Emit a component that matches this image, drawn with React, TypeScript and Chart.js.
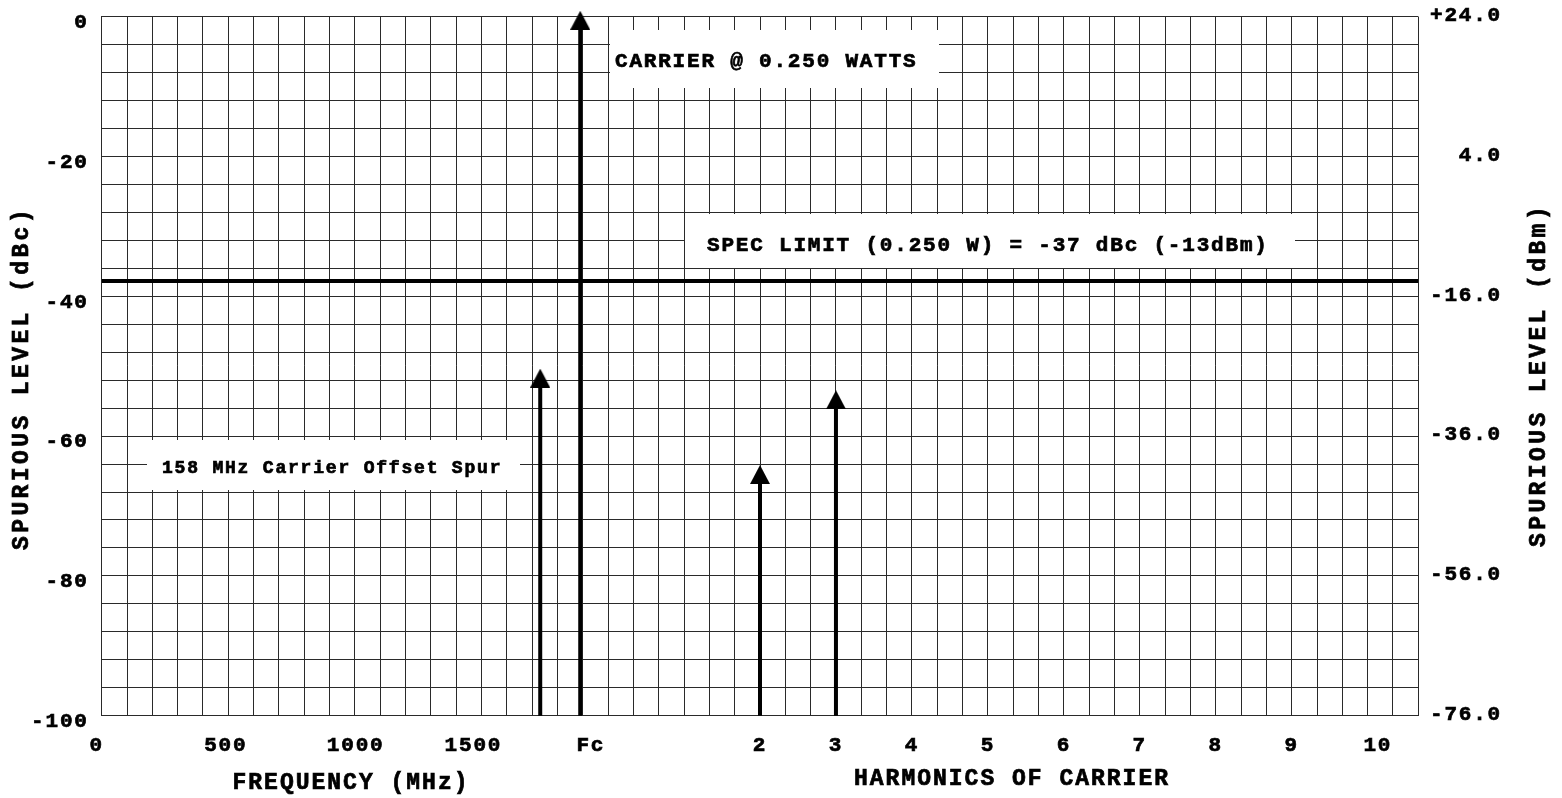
import React, { useEffect, useRef } from 'react';
import { Chart, registerables } from 'chart.js';

Chart.register(...registerables);

const FONT = '"Liberation Mono", "DejaVu Sans Mono", monospace';
const GRID = '#2a2a2a';

// Axes
const xMin = 0;
const xMax = 5200;
const xGridStep = 100;
const yMin = -100;
const yMax = 0;
const yGridStep = 4;
const yLabelStep = 20;
const rightMin = -76;
const rightMax = 24;
const rightTickValues = [24, 4, -16, -36, -56, -76];
const rightTickLabels = ['+24.0', '4.0', '-16.0', '-36.0', '-56.0', '-76.0'];
const xTickValues = [-20, 490, 1003, 1468, 1932, 2600, 2900, 3200, 3500, 3800, 4100, 4400, 4700, 5040];
const xTickLabels = ['0', '500', '1000', '1500', 'Fc', '2', '3', '4', '5', '6', '7', '8', '9', '10'];

// Spectral lines (x in MHz-equivalent axis units, level in dBc)
const arrowNames = ['Carrier', '158 MHz offset spur', '2nd harmonic', '3rd harmonic'];
const arrowFreqs = [1890, 1732, 2600, 2900];
const arrowLevels = [-0.5, -51.7, -65.5, -54.8];
const specLevel = -37.8;

// Annotations
const noteTexts = ['CARRIER @ 0.250 WATTS', 'SPEC LIMIT (0.250 W) = -37 dBc (-13dBm)', '158 MHz Carrier Offset Spur'];

const TICK_LS = 1.8;
const STROKE = 0.7;

const setLS = (ctx: any, v: number) => {
  ctx.letterSpacing = v + 'px';
};

const boldText = (ctx: any, t: string, x: number, y: number) => {
  ctx.strokeText(t, x, y);
  ctx.fillText(t, x, y);
};

const decorPlugin = {
  id: 'decor',
  beforeDraw(chart: any) {
    setLS(chart.ctx, TICK_LS);
  },
  beforeDatasetsDraw(chart: any) {
    const ctx = chart.ctx;
    const notes = [
      { text: noteTexts[0], box: [610, 30, 939, 88], tx: 615, ty: 62, size: 21, ls: 1.8 },
      { text: noteTexts[1], box: [685, 214, 1295, 268], tx: 707, ty: 246, size: 21, ls: 1.8 },
      { text: noteTexts[2], box: [147, 440, 520, 490], tx: 162, ty: 468, size: 18, ls: 1.8 },
    ];
    ctx.save();
    for (const n of notes) {
      ctx.fillStyle = '#fff';
      ctx.fillRect(n.box[0], n.box[1], n.box[2] - n.box[0], n.box[3] - n.box[1]);
      setLS(ctx, n.ls);
      ctx.fillStyle = '#000';
      ctx.strokeStyle = '#000';
      ctx.lineWidth = STROKE;
      ctx.font = `bold ${n.size}px ${FONT}`;
      ctx.textAlign = 'left';
      ctx.textBaseline = 'middle';
      boldText(ctx, n.text, n.tx, n.ty);
    }
    ctx.restore();
  },
  afterDraw(chart: any) {
    const ctx = chart.ctx;
    ctx.save();
    ctx.fillStyle = '#000';
    ctx.strokeStyle = '#000';
    ctx.lineWidth = STROKE;
    ctx.textAlign = 'center';
    ctx.textBaseline = 'middle';
    ctx.font = `bold 23px ${FONT}`;
    setLS(ctx, 2);
    boldText(ctx, 'FREQUENCY (MHz)', 351, 783);
    boldText(ctx, 'HARMONICS OF CARRIER', 1012, 779);
    setLS(ctx, 3.4);
    const vt = (t: string, x: number, y: number) => {
      ctx.save();
      ctx.translate(x, y);
      ctx.rotate(-Math.PI / 2);
      boldText(ctx, t, 0, 0);
      ctx.restore();
    };
    vt('SPURIOUS LEVEL (dBc)', 22, 378);
    vt('SPURIOUS LEVEL (dBm)', 1539, 375);
    ctx.restore();
    setLS(ctx, 0);
  },
};

export default function App() {
  const ref = useRef<HTMLCanvasElement>(null);
  useEffect(() => {
    const arrow = document.createElement('canvas');
    arrow.width = 20;
    arrow.height = 19;
    const a = arrow.getContext('2d')!;
    a.fillStyle = '#000';
    a.beginPath();
    a.moveTo(10, 0);
    a.lineTo(20, 19);
    a.lineTo(0, 19);
    a.closePath();
    a.fill();

    const tickFont = { family: FONT, size: 21, weight: 'bold' as const };
    const tickStroke = { textStrokeColor: '#000', textStrokeWidth: STROKE };

    const datasets: any[] = [
      {
        label: 'Spec limit',
        data: [{ x: xMin, y: specLevel }, { x: xMax, y: specLevel }],
        borderColor: '#000',
        borderWidth: 4,
        pointRadius: 0,
        xAxisID: 'x',
        yAxisID: 'y',
      },
      ...arrowNames.map((name, i) => ({
        label: name,
        data: [{ x: arrowFreqs[i], y: yMin }, { x: arrowFreqs[i], y: arrowLevels[i] }],
        borderColor: '#000',
        backgroundColor: '#000',
        borderWidth: 4,
        borderCapStyle: 'butt',
        pointRadius: [0, 10],
        pointBorderWidth: 0,
        pointStyle: ['circle', arrow],
        clip: false,
        xAxisID: 'x',
        yAxisID: 'y',
      })),
    ];

    const noPad = (s: any) => {
      s.paddingTop = 0;
      s.paddingBottom = 0;
      s.paddingLeft = 0;
      s.paddingRight = 0;
    };

    const chart = new Chart(ref.current!, {
      type: 'line',
      data: { datasets },
      options: {
        animation: false,
        responsive: false,
        devicePixelRatio: 1,
        events: [],
        layout: { padding: { left: 0, right: 60, top: 16.7, bottom: 0 } },
        plugins: { legend: { display: false }, tooltip: { enabled: false }, title: { display: false } },
        scales: {
          x: {
            type: 'linear',
            position: 'bottom',
            min: xMin,
            max: xMax,
            ticks: { display: false, stepSize: xGridStep, autoSkip: false },
            grid: { color: GRID, lineWidth: 1, drawTicks: false },
            border: { color: GRID, width: 1 },
            afterFit: (s: any) => {
              s.height = 0;
              noPad(s);
            },
          },
          xl: {
            type: 'linear',
            position: 'bottom',
            min: xMin,
            max: xMax,
            afterBuildTicks: (s: any) => {
              s.ticks = xTickValues.map((v) => ({ value: v }));
            },
            ticks: {
              autoSkip: false,
              maxRotation: 0,
              minRotation: 0,
              padding: 17,
              color: '#000',
              font: tickFont,
              ...tickStroke,
              callback: (_v: any, i: number) => xTickLabels[i],
            },
            grid: { display: false, drawTicks: false },
            border: { display: false },
            afterFit: (s: any) => {
              s.height = 82.3;
              noPad(s);
            },
          },
          y: {
            type: 'linear',
            position: 'left',
            min: yMin,
            max: yMax,
            ticks: {
              stepSize: yGridStep,
              autoSkip: false,
              padding: 13,
              labelOffset: 6,
              color: '#000',
              font: tickFont,
              ...tickStroke,
              callback: (v: any) => (Math.abs(Number(v) % yLabelStep) < 1e-6 ? String(v) : ''),
            },
            grid: { color: GRID, lineWidth: 1, drawTicks: false },
            border: { color: GRID, width: 1 },
            afterFit: (s: any) => {
              s.width = 101.7;
              noPad(s);
            },
          },
          y2: {
            type: 'linear',
            position: 'right',
            min: rightMin,
            max: rightMax,
            afterBuildTicks: (s: any) => {
              s.ticks = rightTickValues.map((v) => ({ value: v }));
            },
            ticks: {
              autoSkip: false,
              crossAlign: 'far',
              labelOffset: -1,
              color: '#000',
              font: tickFont,
              ...tickStroke,
              callback: (_v: any, i: number) => rightTickLabels[i],
            },
            grid: { display: false, drawTicks: false },
            border: { display: false },
            afterFit: (s: any) => {
              s.width = 83.7;
              noPad(s);
            },
          },
        },
      } as any,
      plugins: [decorPlugin],
    });
    return () => chart.destroy();
  }, []);

  return (
    <div style={{ position: 'fixed', left: 0, top: 0, width: 1562, height: 798, background: '#fff' }}>
      <canvas ref={ref} width={1562} height={798} style={{ display: 'block', width: 1562, height: 798 }} />
    </div>
  );
}
